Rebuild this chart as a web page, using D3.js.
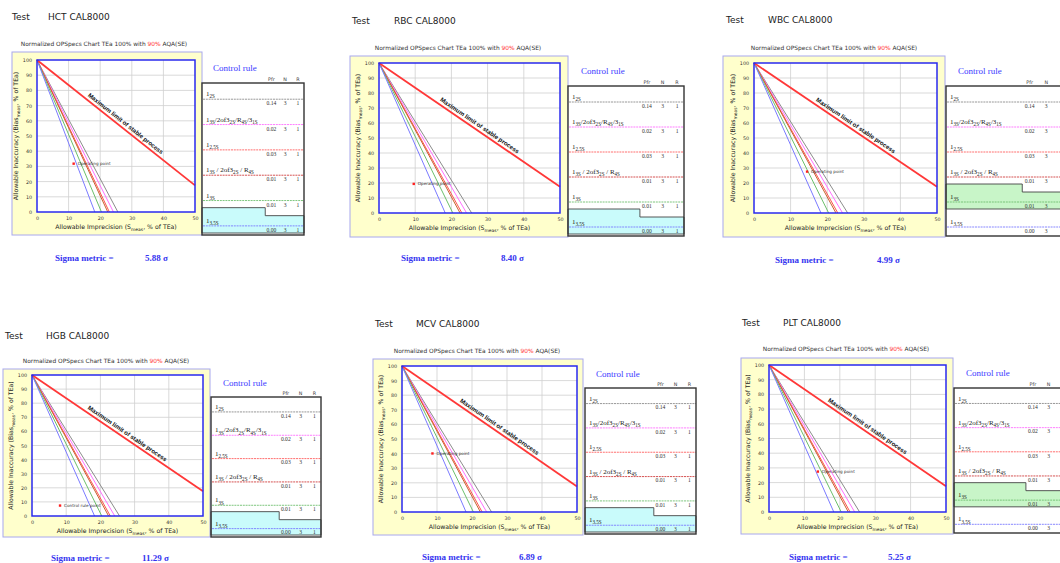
<!DOCTYPE html>
<html><head><meta charset="utf-8">
<script src="https://cdn.jsdelivr.net/npm/d3@7"></script>
<style>body{margin:0;background:#fff} svg{display:block}</style>
</head><body>
<svg id="c" width="1060" height="563"></svg>
<script>
// ---------- data ----------
const tests = ["HCT", "RBC", "WBC", "HGB", "MCV", "PLT"];
const sigmaValues = ["5.88", "8.40", "4.99", "11.29", "6.89", "5.25"];
const opX = [11.6, 9.6, 14.5, 8.2, 8.7, 13.8];
const opY = [31.8, 19.4, 27.6, 7.4, 40.1, 27.5];
const selectedRule = [5, 5, 4, 5, 5, 4];
const opLabel = ["Operating point", "Operating point", "Operating point", "Control rule point", "Operating point", "Operating point"];

const ruleLabels = [
  [["1",0],["2S",1]],
  [["1",0],["3S",1],["/2of3",0],["2S",1],["/R",0],["4S",1],["/3",0],["1S",1]],
  [["1",0],["2.5S",1]],
  [["1",0],["3S",1],[" / 2of3",0],["2S",1],[" / R",0],["4S",1]],
  [["1",0],["3S",1]],
  [["1",0],["3.5S",1]]
];
const rulePfr = ["0.14", "0.02", "0.03", "0.01", "0.01", "0.00"];
const ruleN = [3, 3, 3, 3, 3, 3];
const ruleR = [1, 1, 1, 1, 1, 1];
const ruleXIntercept = [25.6, 24.2, 22.9, 22.4, 20.4, 18.3];
const ruleColors = ["#8c8c8c", "#ff70ff", "#ff5050", "#c8642d", "#6cbf6c", "#7a7aff"];
const rowLineColors = ["#8c8c8c", "#ff70ff", "#ff6060", "#d04040", "#70c070", "#7a7aff"];

const xTicks = [0, 10, 20, 30, 40, 50];
const yTicks = [0, 10, 20, 30, 40, 50, 60, 70, 80, 90, 100];
const maxLimitX = [0, 50];
const maxLimitY = [100, 17.5];

// ---------- layout (positions only) ----------
const layout = [
  {box:[12,52,202,235], plot:[37,60,195,212], table:[202,83,304,235], test:[12,20,48], title:[104,46], ctrl:[213,71], sigma:[55,261,145]},
  {box:[350,56,568,237], plot:[379,63,560,213], table:[568,86,684,236], test:[352,24,394], title:[458,50], ctrl:[581,74], sigma:[401,261,501]},
  {box:[723,56,945,237], plot:[754,63,937,213], table:[946,86,1069,236], test:[726,23,768], title:[834,50], ctrl:[958,74], sigma:[775,263,877]},
  {box:[3,369,210,537], plot:[32,375,203,516], table:[211,397,321,537], test:[5,339,46], title:[106,363], ctrl:[223,386], sigma:[51,561,142]},
  {box:[373,359,583,535], plot:[402,366,577,512], table:[585,388,696,534], test:[375,327,416], title:[477,353], ctrl:[596,377], sigma:[422,560,519]},
  {box:[741,358,953,534], plot:[769,365,946,512], table:[954,388,1070,533], test:[742,326,783], title:[846,351], ctrl:[966,376], sigma:[789,560,888]}
];
const highlightFill = {5:"#c9fbfb", 4:"#c8f5c8"};

const SANS = "'DejaVu Sans', Verdana, sans-serif";
const ARIAL = "'Liberation Sans', Arial, sans-serif";
const SERIF = "'Liberation Serif', 'Times New Roman', serif";

const svg = d3.select("#c");

function rich(textSel, parts, size) {
  let sub = false;
  parts.forEach(([s, isSub]) => {
    const ts = textSel.append("tspan").text(s);
    if (isSub && !sub) { ts.attr("dy", size*0.3).attr("font-size", size*0.72); sub = true; }
    else if (isSub) { ts.attr("font-size", size*0.72); }
    else if (!isSub && sub) { ts.attr("dy", -size*0.3); sub = false; }
  });
}

tests.forEach((name, i) => {
  const L = layout[i];
  const g = svg.append("g");

  // header
  g.append("text").attr("x", L.test[0]).attr("y", L.test[1]).attr("font-family", SANS)
    .attr("font-size", 9).attr("fill", "#222").text("Test");
  g.append("text").attr("x", L.test[2]).attr("y", L.test[1]).attr("font-family", SANS)
    .attr("font-size", 9).attr("fill", "#222").text(name + " CAL8000");

  // chart title
  const tt = g.append("text").attr("x", L.title[0]).attr("y", L.title[1]).attr("text-anchor", "middle")
    .attr("font-family", SANS).attr("font-size", 5.9).attr("fill", "#333");
  tt.append("tspan").text("Normalized OPSpecs Chart TEa 100% with ");
  tt.append("tspan").attr("fill", "#ff3030").text("90%");
  tt.append("tspan").text(" AQA(SE)");

  // yellow frame
  g.append("rect").attr("x", L.box[0]).attr("y", L.box[1]).attr("width", L.box[2]-L.box[0])
    .attr("height", L.box[3]-L.box[1]).attr("fill", "#ffffcc").attr("stroke", "#a8a8ee").attr("stroke-width", 1);

  const x = d3.scaleLinear().domain([0, 50]).range([L.plot[0], L.plot[2]]);
  const y = d3.scaleLinear().domain([0, 100]).range([L.plot[3], L.plot[1]]);

  g.append("rect").attr("x", x(0)).attr("y", y(100)).attr("width", x(50)-x(0)).attr("height", y(0)-y(100))
    .attr("fill", "#fff");

  // grid
  g.selectAll(null).data(xTicks.slice(1, -1)).join("line")
    .attr("x1", d => x(d)).attr("x2", d => x(d)).attr("y1", y(0)).attr("y2", y(100))
    .attr("stroke", "#cfcfcf").attr("stroke-width", 0.8);
  g.selectAll(null).data(yTicks.slice(1, -1)).join("line")
    .attr("x1", x(0)).attr("x2", x(50)).attr("y1", d => y(d)).attr("y2", d => y(d))
    .attr("stroke", "#cfcfcf").attr("stroke-width", 0.8);

  // axes
  const ax = g.append("g").attr("transform", `translate(0,${y(0)})`)
    .call(d3.axisBottom(x).tickValues(xTicks).tickSize(0).tickPadding(5));
  const ay = g.append("g").attr("transform", `translate(${x(0)},0)`)
    .call(d3.axisLeft(y).tickValues(yTicks).tickSize(0).tickPadding(5));
  [ax, ay].forEach(a => {
    a.select(".domain").remove();
    a.selectAll("text").attr("font-family", SANS).attr("font-size", 4.8).attr("fill", "#333");
  });

  // rule operating lines
  g.selectAll(null).data(ruleXIntercept).join("line")
    .attr("x1", x(0)).attr("y1", y(100)).attr("x2", d => x(d)).attr("y2", y(0))
    .attr("stroke", (d, k) => ruleColors[k]).attr("stroke-width", 1);

  // max limit line
  g.append("line").attr("x1", x(maxLimitX[0])).attr("y1", y(maxLimitY[0]))
    .attr("x2", x(maxLimitX[1])).attr("y2", y(maxLimitY[1]))
    .attr("stroke", "#ff3838").attr("stroke-width", 1.8);
  const ang = Math.atan2(y(maxLimitY[1]) - y(maxLimitY[0]), x(maxLimitX[1]) - x(maxLimitX[0])) * 180 / Math.PI;
  const tx = 27, ty = maxLimitY[0] + (maxLimitY[1]-maxLimitY[0]) * tx / 50;
  g.append("text").attr("transform", `translate(${x(tx)},${y(ty)}) rotate(${ang})`)
    .attr("dy", -3.2).attr("text-anchor", "middle").attr("font-family", ARIAL)
    .attr("font-weight", "bold").attr("font-size", 6.1).attr("fill", "#111")
    .text("Maximum limit of stable process");

  // operating point
  g.append("rect").attr("x", x(opX[i]) - 1.2).attr("y", y(opY[i]) - 1.2).attr("width", 2.4).attr("height", 2.4)
    .attr("fill", "#ff2020");
  g.append("text").attr("x", x(opX[i]) + 4).attr("y", y(opY[i]) + 1.5).attr("font-family", SANS)
    .attr("font-size", 4.2).attr("fill", "#333").text(opLabel[i]);

  // plot border
  g.append("rect").attr("x", x(0)).attr("y", y(100)).attr("width", x(50)-x(0)).attr("height", y(0)-y(100))
    .attr("fill", "none").attr("stroke", "#2a2aee").attr("stroke-width", 1.5);

  // axis labels
  const xl = g.append("text").attr("x", (x(0)+x(50))/2).attr("y", y(0) + 17).attr("text-anchor", "middle")
    .attr("font-family", SANS).attr("font-size", 6.2).attr("fill", "#222");
  rich(xl, [["Allowable Imprecision (S",0],["meas",1],[", % of TEa)",0]], 6.2);
  const yl = g.append("text").attr("transform", `translate(${x(0)-19},${(y(0)+y(100))/2}) rotate(-90)`)
    .attr("text-anchor", "middle").attr("font-family", SANS).attr("font-size", 6.2).attr("fill", "#222");
  rich(yl, [["Allowable Inaccuracy (Bias",0],["meas",1],[", % of TEa)",0]], 6.2);

  // ----- control rule table -----
  const T = L.table, tw = T[2]-T[0], th = T[3]-T[1], rh = th / 6;
  g.append("text").attr("x", L.ctrl[0]).attr("y", L.ctrl[1]).attr("font-family", SERIF)
    .attr("font-size", 9).attr("fill", "#3a3aff").text("Control rule");
  const cols = [0.68, 0.815, 0.94].map(f => T[0] + f*tw);
  ["Pfr", "N", "R"].forEach((h, k) => g.append("text").attr("x", cols[k]).attr("y", T[1] - 2.5)
    .attr("text-anchor", "middle").attr("font-family", SANS).attr("font-size", 4.8).attr("fill", "#333").text(h));

  g.append("rect").attr("x", T[0]).attr("y", T[1]).attr("width", tw).attr("height", th)
    .attr("fill", "#fff");

  const sr = selectedRule[i];
  const rt = T[1] + sr*rh;
  const topL = rt - 2, topR = rt + 6, bot = Math.min(rt + rh - 2, T[3]);
  const stepX = T[0] + 0.62*tw;
  g.append("path").attr("d", `M${T[0]},${bot}L${T[0]},${topL}L${stepX},${topL}L${stepX},${topR}L${T[2]},${topR}L${T[2]},${bot}Z`)
    .attr("fill", highlightFill[sr]).attr("stroke", "#444").attr("stroke-width", 0.9);

  ruleLabels.forEach((parts, k) => {
    const top = T[1] + k*rh;
    g.append("line").attr("x1", T[0]+1).attr("x2", T[2]).attr("y1", top + 0.64*rh).attr("y2", top + 0.64*rh)
      .attr("stroke", rowLineColors[k]).attr("stroke-width", 0.9).attr("stroke-dasharray", "2,0.8");
    const lt = g.append("text").attr("x", T[0] + 4).attr("y", top + 0.52*rh).attr("font-family", SERIF)
      .attr("font-size", 7).attr("fill", "#222");
    rich(lt, parts, 7);
    [rulePfr[k], ruleN[k], ruleR[k]].forEach((v, c) => g.append("text").attr("x", cols[c])
      .attr("y", top + 0.88*rh).attr("text-anchor", "middle").attr("font-family", SERIF)
      .attr("font-size", 5.6).attr("fill", "#333").text(v));
  });

  g.append("rect").attr("x", T[0]).attr("y", T[1]).attr("width", tw).attr("height", th)
    .attr("fill", "none").attr("stroke", "#333").attr("stroke-width", 1.4);

  // sigma metric
  g.append("text").attr("x", L.sigma[0]).attr("y", L.sigma[1]).attr("font-family", SERIF)
    .attr("font-weight", "bold").attr("font-size", 9).attr("fill", "#3434f0").text("Sigma metric =");
  g.append("text").attr("x", L.sigma[2]).attr("y", L.sigma[1]).attr("font-family", SERIF)
    .attr("font-weight", "bold").attr("font-size", 9).attr("fill", "#3434f0").text(sigmaValues[i] + " σ");
});
</script>
</body></html>
